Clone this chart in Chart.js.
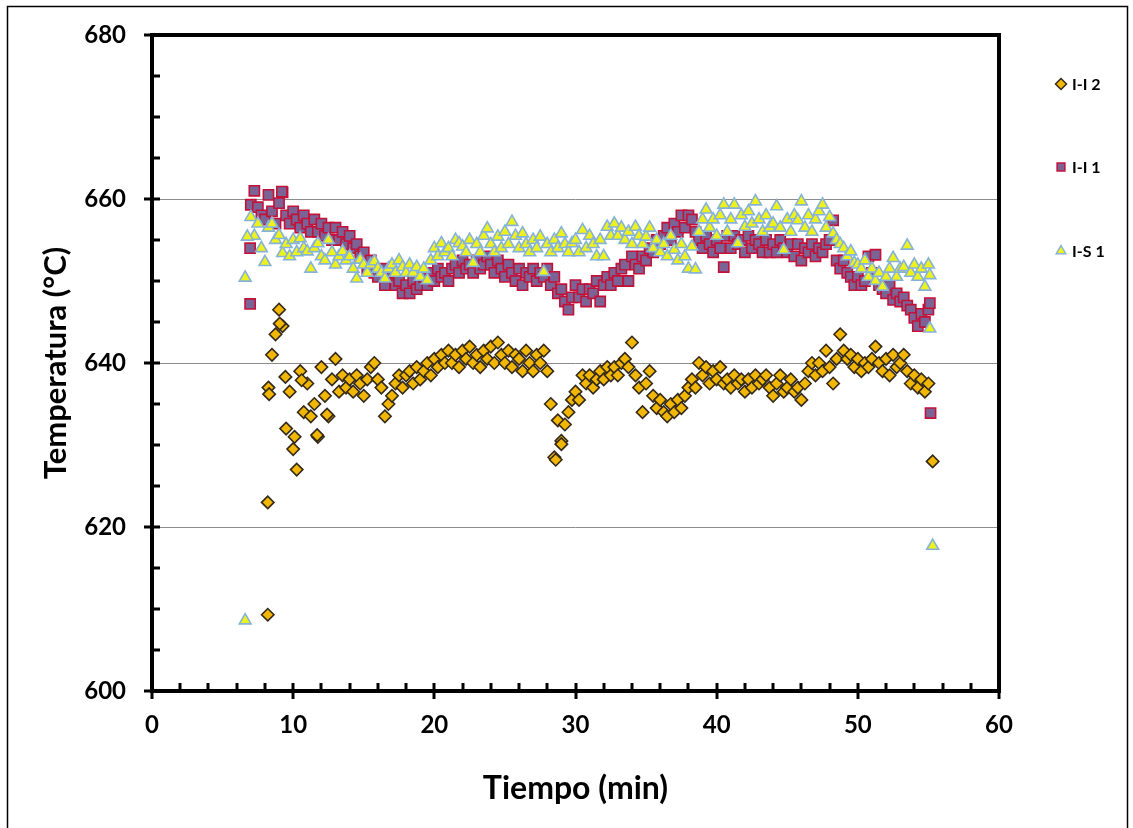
<!DOCTYPE html>
<html>
<head>
<meta charset="utf-8">
<script src="https://cdn.jsdelivr.net/npm/chart.js@4/dist/chart.umd.min.js"></script>
<style>
  html, body { margin: 0; padding: 0; background: #fff; }
  canvas { display: block; }
</style>
</head>
<body>
<canvas id="grafico" width="1133" height="828"></canvas>
<script>
// tiempo de muestreo (min)
const tiempo = [
  7, 7.25, 7.5, 7.75, 8, 8.25, 8.5, 8.75,
  9, 9.25, 9.5, 9.75, 10, 10.25, 10.5, 10.75,
  11, 11.25, 11.5, 11.75, 12, 12.25, 12.5, 12.75,
  13, 13.25, 13.5, 13.75, 14, 14.25, 14.5, 14.75,
  15, 15.25, 15.5, 15.75, 16, 16.25, 16.5, 16.75,
  17, 17.25, 17.5, 17.75, 18, 18.25, 18.5, 18.75,
  19, 19.25, 19.5, 19.75, 20, 20.25, 20.5, 20.75,
  21, 21.25, 21.5, 21.75, 22, 22.25, 22.5, 22.75,
  23, 23.25, 23.5, 23.75, 24, 24.25, 24.5, 24.75,
  25, 25.25, 25.5, 25.75, 26, 26.25, 26.5, 26.75,
  27, 27.25, 27.5, 27.75, 28, 28.25, 28.5, 28.75,
  29, 29.25, 29.5, 29.75, 30, 30.25, 30.5, 30.75,
  31, 31.25, 31.5, 31.75, 32, 32.25, 32.5, 32.75,
  33, 33.25, 33.5, 33.75, 34, 34.25, 34.5, 34.75,
  35, 35.25, 35.5, 35.75, 36, 36.25, 36.5, 36.75,
  37, 37.25, 37.5, 37.75, 38, 38.25, 38.5, 38.75,
  39, 39.25, 39.5, 39.75, 40, 40.25, 40.5, 40.75,
  41, 41.25, 41.5, 41.75, 42, 42.25, 42.5, 42.75,
  43, 43.25, 43.5, 43.75, 44, 44.25, 44.5, 44.75,
  45, 45.25, 45.5, 45.75, 46, 46.25, 46.5, 46.75,
  47, 47.25, 47.5, 47.75, 48, 48.25, 48.5, 48.75,
  49, 49.25, 49.5, 49.75, 50, 50.25, 50.5, 50.75,
  51, 51.25, 51.5, 51.75, 52, 52.25, 52.5, 52.75,
  53, 53.25, 53.5, 53.75, 54, 54.25, 54.5, 54.75,
  55
];

// I-I 2 (rombos)
const ii2 = [
  null, null, null, null, null, 637.0, 641.0, 643.5,
  646.5, 644.5, 632.0, 636.5, 629.5, 627.0, 639.0, 634.0,
  637.5, 633.5, 635.0, 631.0, 639.5, 636.0, 633.5, 638.0,
  640.5, 636.5, 638.5, 637.0, 638.0, 636.5, 638.5, 637.5,
  636.0, 638.0, 639.5, 640.0, 638.0, 637.0, 633.5, 635.0,
  636.0, 637.5, 638.5, 637.0, 638.5, 639.0, 637.5, 639.5,
  638.0, 639.0, 640.0, 638.5, 640.5, 639.5, 641.0, 640.0,
  641.5, 640.0, 641.0, 639.5, 641.5, 640.5, 642.0, 640.0,
  641.0, 639.5, 641.5, 640.5, 642.0, 640.0, 642.5, 641.0,
  640.0, 641.5, 639.5, 641.0, 640.5, 639.0, 641.5, 640.0,
  639.0, 641.0, 640.0, 641.5, 639.0, 635.0, 628.5, 633.0,
  630.5, 632.5, 634.0, 635.5, 636.5, 635.5, 638.5, 637.5,
  638.5, 637.0, 638.0, 639.0, 638.0, 639.5, 638.5, 639.5,
  638.5, 640.0, 640.5, 639.5, 642.5, 638.5, 637.0, 634.0,
  637.5, 639.0, 636.0, 634.5, 635.5, 634.0, 633.5, 635.0,
  634.0, 635.5, 634.5, 636.0, 637.0, 638.0, 637.0, 640.0,
  638.5, 639.5, 637.5, 639.0, 638.0, 639.5, 637.5, 638.0,
  637.0, 638.5, 637.5, 638.0, 636.5, 638.0, 637.0, 638.5,
  637.5, 638.0, 638.5, 637.0, 636.0, 637.5, 638.5, 636.5,
  637.0, 638.0, 636.5, 637.0, 635.5, 637.5, 639.0, 640.0,
  638.5, 640.0, 639.0, 641.5, 639.5, 637.5, 640.5, 643.5,
  641.5, 640.5, 641.0, 639.5, 640.5, 639.0, 640.0, 639.5,
  640.5, 642.0, 640.0, 639.0, 640.5, 638.5, 641.0, 639.5,
  640.0, 641.0, 639.0, 637.5, 638.5, 637.0, 638.0, 636.5,
  637.5
];
const ii2ExtraX = [8.2, 8.2, 8.3, 9.05, 9.45, 10.1, 10.6, 11.7, 12.4, 28.6, 29.0, 55.3];
const ii2ExtraY = [609.3, 623.0, 636.2, 644.8, 638.3, 631.0, 637.9, 631.2, 633.7, 628.2, 630.1, 628.0];

// I-I 1 (cuadrados)
const ii1 = [
  659.3, 661.0, 659.0, 658.0, 657.5, 660.5, 658.5, 657.0,
  659.5, 660.8, 658.0, 657.0, 658.5, 657.5, 656.5, 658.0,
  657.0, 656.0, 657.5, 656.0, 657.0, 655.5, 656.5, 655.0,
  656.5, 655.0, 656.0, 654.5, 655.5, 654.0, 654.5, 653.0,
  653.5, 651.5, 652.5, 651.0, 650.5, 651.5, 649.5, 650.5,
  651.0, 649.5, 650.0, 648.5, 649.5, 648.5, 650.0, 649.0,
  649.5, 650.5, 649.5, 651.0, 650.0, 651.5, 650.5, 651.0,
  650.0, 651.5, 652.0, 651.0, 652.5, 651.5, 652.0, 651.0,
  652.5, 651.5, 652.0, 653.0, 652.0, 651.0, 652.5, 651.5,
  650.5, 652.0, 651.0, 650.0, 651.5, 649.5, 651.0, 650.5,
  651.5, 650.0, 651.0, 650.5, 651.5, 649.5, 650.5, 648.5,
  649.0, 647.5, 646.5, 648.0, 649.5, 648.0, 649.0, 647.5,
  649.0, 648.5, 650.0, 647.5, 649.5, 650.5, 649.5, 651.0,
  650.0, 651.5, 652.0, 650.0, 653.0, 652.0, 651.5, 653.0,
  652.5, 654.0, 653.5, 655.0, 654.5, 655.5, 656.5, 655.0,
  657.0, 656.0, 658.0, 656.5, 658.0, 657.5, 656.0, 655.0,
  654.0, 655.5, 654.5, 653.5, 655.0, 654.0, 651.7, 655.5,
  654.0, 655.5, 654.5, 655.0, 653.5, 655.5, 654.0, 655.0,
  654.5, 653.5, 655.0, 653.5, 654.5, 653.5, 655.0, 654.0,
  653.5, 654.5, 653.0, 654.5, 652.5, 654.0, 653.5, 654.5,
  653.0, 654.0, 653.5, 654.5, 655.0, 657.4, 652.5, 651.5,
  652.5, 651.0, 650.5, 649.5, 650.5, 649.5, 650.0, 653.0,
  651.0, 653.2, 649.5, 649.0, 648.5, 649.5, 647.7, 648.5,
  647.5, 648.0, 647.0, 646.5, 645.5, 644.5, 646.0, 645.0,
  646.5
];
const ii1ExtraX = [6.95, 6.95, 9.2, 55.1, 55.15];
const ii1ExtraY = [654.0, 647.2, 660.9, 647.3, 633.9];

// I-S 1 (triangulos)
const is1 = [
  657.8, 655.5, 657.0, 654.0, 652.3, 656.5, 657.0, 655.0,
  655.6, 653.4, 654.5, 653.0, 655.0, 653.5, 655.2, 654.0,
  653.6, 651.5, 654.0, 654.6, 653.0, 652.5, 655.0, 653.5,
  652.0, 653.0, 653.6, 652.5, 653.0, 651.5, 650.3, 652.6,
  652.0, 651.0, 652.0, 652.4, 651.5, 651.0, 650.3, 651.5,
  652.0, 651.0, 652.5, 651.7, 651.0, 652.0, 651.0, 651.7,
  650.5, 651.5, 650.1, 652.5, 654.0, 653.0, 654.6, 653.5,
  654.0, 653.0, 655.0, 654.6, 654.2, 653.5, 655.0, 652.2,
  654.5, 653.5, 655.5, 656.4, 654.5, 653.5, 655.4, 654.0,
  656.0, 654.5, 657.2, 655.5, 654.0, 655.8, 654.5, 653.5,
  655.0, 654.0, 655.4, 651.1, 654.5, 653.5, 655.0, 654.0,
  655.8, 654.5, 653.5, 654.6, 655.0, 653.5, 656.2, 654.0,
  655.5, 654.5, 653.0, 655.0, 653.0, 656.6, 655.5, 657.0,
  655.5, 656.5, 655.0, 656.0, 654.5, 656.6, 655.5, 654.5,
  655.4, 656.5, 654.0, 655.0, 653.5, 654.5, 653.0, 655.5,
  653.8, 652.5, 654.5, 653.0, 651.5, 654.2, 651.4, 656.0,
  657.5, 658.7, 656.5, 657.5, 655.5, 658.0, 659.3, 656.0,
  657.5, 659.3, 654.6, 658.0, 656.6, 658.5, 657.0, 659.7,
  657.5, 656.0, 658.0, 656.5, 657.0, 659.1, 656.5, 653.8,
  657.5, 656.0, 658.0, 657.4, 659.7, 656.5, 658.0, 656.0,
  657.5, 658.5, 659.3, 656.5, 657.8, 655.8, 655.0, 654.5,
  654.0, 653.0, 653.6, 652.2, 652.0, 651.5, 652.5, 650.5,
  651.5, 650.0, 651.0, 649.3, 650.5, 651.5, 652.8, 650.5,
  651.5, 651.7, 654.3, 651.0, 652.0, 650.5, 651.5, 649.3,
  652.0
];
const is1ExtraX = [6.6, 6.6, 6.75, 55.1, 55.1, 55.3];
const is1ExtraY = [650.4, 608.6, 655.4, 650.7, 644.2, 617.7];

const yTicks = [600, 620, 640, 660, 680];
const xTicks = [0, 10, 20, 30, 40, 50, 60];

function puntos(ys, ex, ey) {
    const pts = [];
    tiempo.forEach((t, i) => {
        if (ys[i] !== null) pts.push({ x: t, y: ys[i] });
    });
    ex.forEach((t, i) => pts.push({ x: t, y: ey[i] }));
    return pts;
}

const series = [
    { label: 'I-I 2', data: puntos(ii2, ii2ExtraX, ii2ExtraY), pointStyle: 'rectRot', radius: 6.2,
      backgroundColor: '#F2B705', borderColor: '#33291a', order: 3 },
    { label: 'I-I 1', data: puntos(ii1, ii1ExtraX, ii1ExtraY), pointStyle: 'rect', radius: 7.2,
      backgroundColor: '#7b6396', borderColor: '#c2123a', order: 2 },
    { label: 'I-S 1', data: puntos(is1, is1ExtraX, is1ExtraY), pointStyle: 'triangle', radius: 6.8,
      backgroundColor: '#eef21c', borderColor: '#86b2d8', order: 1 }
];

// marco, ejes y marcas
const marcoPlugin = {
    id: 'marco',
    beforeDraw(chart) {
        const ctx = chart.ctx;
        ctx.save();
        ctx.fillStyle = '#fff';
        ctx.fillRect(0, 0, chart.width, chart.height);
        ctx.strokeStyle = '#000';
        ctx.lineWidth = 1.5;
        ctx.strokeRect(7.5, 6.5, 1120, 900);
        ctx.restore();
    },
    afterDraw(chart) {
        const { ctx, chartArea: a, scales: { x, y } } = chart;
        ctx.save();
        ctx.strokeStyle = '#000';
        ctx.lineWidth = 3;
        for (let v = 600; v <= 680; v += 5) {
            const py = Math.round(y.getPixelForValue(v));
            const major = v % 20 === 0;
            ctx.beginPath();
            ctx.moveTo(a.left - (major ? 8 : 0), py);
            ctx.lineTo(a.left + 8, py);
            ctx.stroke();
        }
        for (let v = 0; v <= 60; v += 2) {
            const px = Math.round(x.getPixelForValue(v));
            const major = v % 10 === 0;
            ctx.beginPath();
            ctx.moveTo(px, a.bottom + (major ? 8 : 0));
            ctx.lineTo(px, a.bottom - 8);
            ctx.stroke();
        }
        ctx.lineWidth = 4;
        ctx.strokeRect(a.left, a.top, a.right - a.left, a.bottom - a.top);
        ctx.restore();
    }
};

function marcador(ctx, s, cx, cy, r) {
    ctx.beginPath();
    if (s.pointStyle === 'rectRot') {
        ctx.moveTo(cx, cy - r); ctx.lineTo(cx + r, cy); ctx.lineTo(cx, cy + r); ctx.lineTo(cx - r, cy);
    } else if (s.pointStyle === 'rect') {
        const h = r * Math.SQRT1_2;
        ctx.rect(cx - h, cy - h, 2 * h, 2 * h);
    } else {
        ctx.moveTo(cx, cy - r);
        ctx.lineTo(cx + r * 0.866, cy + r / 2);
        ctx.lineTo(cx - r * 0.866, cy + r / 2);
    }
    ctx.closePath();
    ctx.fillStyle = s.backgroundColor;
    ctx.strokeStyle = s.borderColor;
    ctx.lineWidth = 1.5;
    ctx.fill();
    ctx.stroke();
}

// leyenda a la derecha
const leyendaPlugin = {
    id: 'leyenda',
    afterDraw(chart) {
        const ctx = chart.ctx;
        const filas = [84, 167, 251];
        ctx.save();
        chart.data.datasets.forEach((ds, i) => {
            marcador(ctx, ds, 1061, filas[i], 5.5);
            ctx.fillStyle = '#000';
            ctx.font = 'bold 16px Lato, "Liberation Sans", sans-serif';
            ctx.textBaseline = 'middle';
            ctx.textAlign = 'left';
            ctx.fillText(ds.label, 1072, filas[i] + 1);
        });
        ctx.restore();
    }
};

const fuenteTick = { family: 'Lato, "Liberation Sans", sans-serif', size: 24, weight: 'bold' };

new Chart(document.getElementById('grafico'), {
    type: 'scatter',
    data: {
        datasets: series.map(s => ({
            label: s.label,
            data: s.data,
            order: s.order,
            pointStyle: s.pointStyle,
            pointRadius: s.radius,
            pointHoverRadius: s.radius,
            pointBackgroundColor: s.backgroundColor,
            pointBorderColor: s.borderColor,
            pointBorderWidth: 1.6,
            backgroundColor: s.backgroundColor,
            borderColor: s.borderColor
        }))
    },
    options: {
        responsive: false,
        animation: false,
        layout: { padding: { left: 0, top: 35, right: 134, bottom: 0 } },
        plugins: {
            legend: { display: false },
            tooltip: { enabled: false }
        },
        scales: {
            x: {
                type: 'linear',
                min: 0,
                max: 60,
                afterBuildTicks(scale) { scale.ticks = xTicks.map(v => ({ value: v })); },
                afterFit(scale) {
                    scale.height = 137;
                    scale.paddingLeft = 0;
                    scale.paddingRight = 0;
                },
                ticks: { font: fuenteTick, color: '#000', padding: 20 },
                grid: { display: false, drawTicks: false },
                border: { display: false },
                title: {
                    display: true,
                    text: 'Tiempo (min)',
                    color: '#000',
                    font: { family: 'Lato, "Liberation Sans", sans-serif', size: 32, weight: 'bold' },
                    padding: { top: 0, bottom: 20 }
                }
            },
            y: {
                min: 600,
                max: 680,
                afterBuildTicks(scale) { scale.ticks = yTicks.map(v => ({ value: v })); },
                afterFit(scale) {
                    scale.width = 152;
                    scale.paddingTop = 0;
                    scale.paddingBottom = 0;
                },
                ticks: { font: fuenteTick, color: '#000', padding: 26 },
                grid: { color: '#8c8c8c', lineWidth: 1, drawTicks: false },
                border: { display: false },
                title: {
                    display: true,
                    text: 'Temperatura (°C)',
                    color: '#000',
                    font: { family: 'Lato, "Liberation Sans", sans-serif', size: 31, weight: 'bold' },
                    padding: { top: 37, bottom: 0 }
                }
            }
        }
    },
    plugins: [marcoPlugin, leyendaPlugin]
});
</script>
</body>
</html>
